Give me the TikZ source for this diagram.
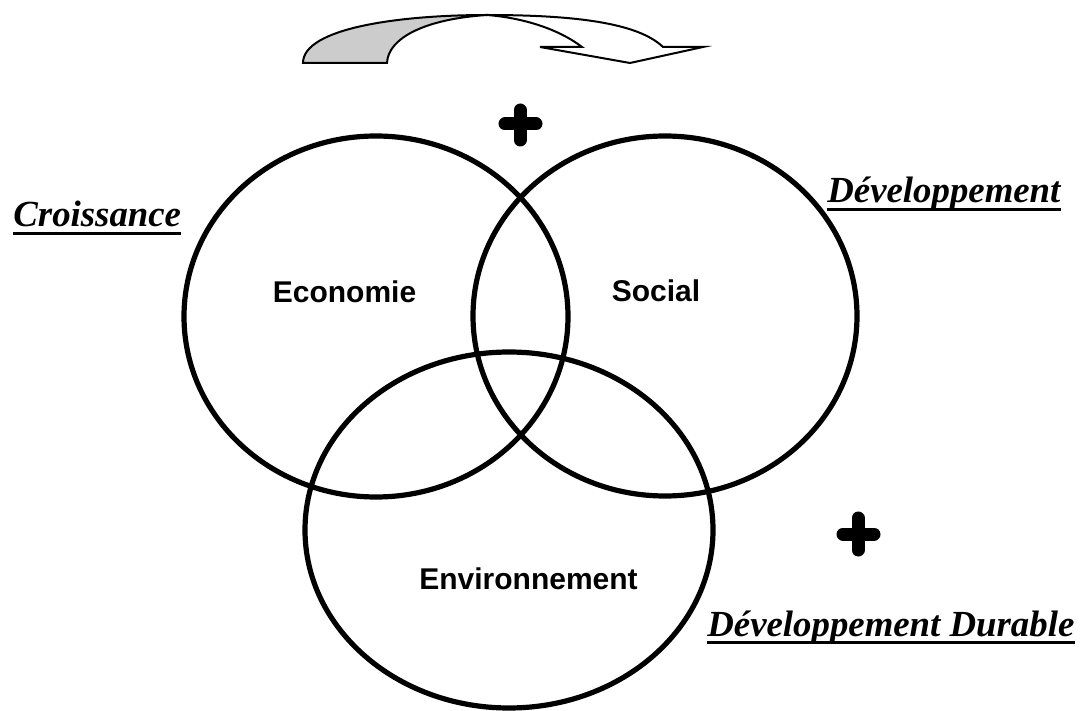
\documentclass[tikz,border=0pt]{standalone}
\usepackage{fontspec}
\setmainfont{Liberation Serif}
\newfontfamily\ringfont{Liberation Sans}
\begin{document}
\begin{tikzpicture}[x=0.5pt,y=-0.5pt,
  ring/.style={line width=2.6pt},
  ringtext/.style={inner sep=0pt,anchor=base,font=\ringfont\bfseries\fontsize{15}{17}\selectfont},
  title/.style={inner sep=0pt,anchor=base west,font=\bfseries\itshape\fontsize{18.4}{20}\selectfont},
  uline/.style={line width=1.5pt},
  plus/.style={line width=6.5pt,line cap=round}]
\useasboundingbox (0,0) rectangle (1082,711);

% curved arrow
\draw[line width=1pt,fill=black!20] (303,63) .. controls (303,28) and (400,15) .. (487,15)
  .. controls (425,19) and (388,38) .. (387,63) -- cycle;
\draw[line width=1pt,fill=white] (487,15) .. controls (585,15) and (640,25) .. (663,47)
  -- (703,47) -- (630,63) -- (540,47) -- (582,47) .. controls (560,30) and (525,18) .. (487,15);

% the three rings
\draw[ring] (376,316.5) ellipse [x radius=96pt, y radius=90.25pt];
\draw[ring] (665,316) ellipse [x radius=96pt, y radius=90pt];
\draw[ring] (509,530) ellipse [x radius=102pt, y radius=89pt];

\node[ringtext] (eco) at (344.5,303) {Economie};
\node[ringtext] (soc) at (656,302) {Social};
\node[ringtext] (env) at (528.5,589) {Environnement};

% titles
\node[title] (cro) at (13,227) {Croissance};
\node[title] (dev) at (827,203) {Développement};
\node[title] (dur) at (707,636) {Développement Durable};
\foreach \t in {cro,dev,dur}
  \draw[uline] ([yshift=-3.2pt]\t.base west) -- ([yshift=-3.2pt]\t.base east);

% plus signs
\draw[plus] (505,124) -- (536,124) (520,110) -- (520,140);
\draw[plus] (843,534) -- (874,534) (858,518) -- (858,550);
\end{tikzpicture}
\end{document}
